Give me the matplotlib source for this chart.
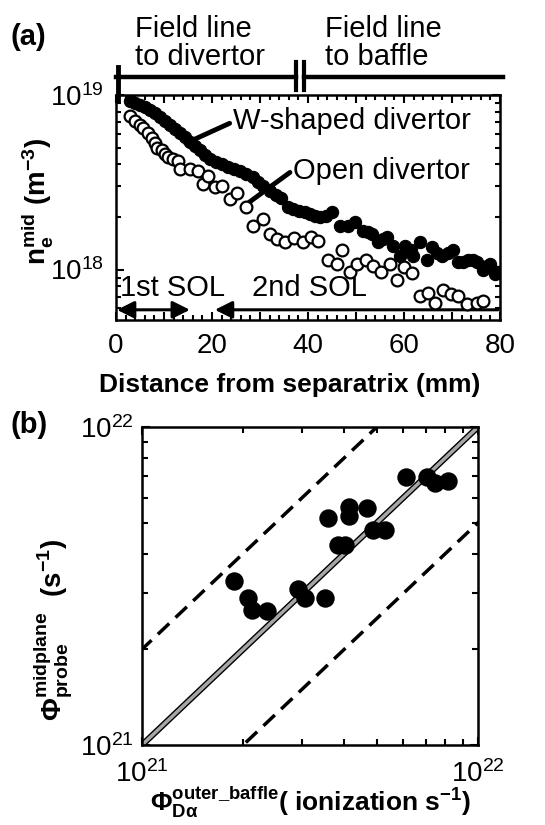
import numpy as np
import matplotlib
matplotlib.use('Agg')
import matplotlib.pyplot as plt
from matplotlib.ticker import MultipleLocator, NullFormatter, FuncFormatter

plt.rcParams['font.family'] = ['Liberation Sans', 'DejaVu Sans']
plt.rcParams['mathtext.fontset'] = 'custom'
plt.rcParams['mathtext.rm'] = 'Liberation Sans'
plt.rcParams['mathtext.bf'] = 'Liberation Sans:bold'
plt.rcParams['mathtext.it'] = 'Liberation Sans:italic'

# (a) midplane density profiles, distance in mm, density in 1e18 m^-3
w_dist = [2.9, 4.0, 5.0, 6.0, 7.1, 8.1, 9.2, 10.2, 11.3, 12.3, 13.3, 14.4, 15.4, 16.5, 17.5,
          18.5, 19.6, 20.8, 22.1, 23.3, 24.6, 25.8, 27.1, 28.5, 29.6, 30.6, 32.1, 33.3, 34.4,
          35.8, 36.9, 38.1, 39.4, 40.4, 41.5, 42.5, 43.75, 45.0, 46.7, 48.3, 49.8, 51.5, 52.5,
          53.3, 54.6, 55.6, 56.5, 57.7, 59.2, 60.2, 61.5, 61.9, 63.3, 64.8, 65.8, 66.9, 67.9,
          69.2, 70.2, 71.25, 72.3, 73.3, 74.4, 75.2, 76.5, 77.3, 77.9, 79.0, 79.6]
w_ne = [9.23, 8.99, 8.75, 8.53, 8.19, 7.87, 7.46, 7.08, 6.71, 6.36, 6.03, 5.72, 5.35, 5.07, 4.81,
        4.56, 4.32, 4.15, 4.04, 3.89, 3.79, 3.68, 3.54, 3.40, 3.18, 3.02, 2.82, 2.68, 2.57,
        2.28, 2.22, 2.16, 2.14, 2.08, 2.02, 2.00, 2.02, 2.14, 1.77, 1.77, 1.87, 1.66, 1.64,
        1.59, 1.43, 1.49, 1.53, 1.36, 1.19, 1.36, 1.30, 1.19, 1.43, 1.14, 1.34, 1.25, 1.19,
        1.24, 1.30, 1.10, 1.11, 1.14, 1.13, 1.11, 1.00, 1.05, 1.07, 0.94, 0.97]

open_dist = [2.9, 4.0, 5.0, 5.6, 6.7, 7.5, 8.1, 8.5, 9.6, 10.2, 10.8, 11.9, 12.9, 13.3, 15.4,
             17.1, 18.1, 19.2, 20.6, 22.1, 23.75, 25.2, 27.1, 28.5, 30.6, 32.1, 33.5, 35.2,
             37.1, 39.0, 40.6, 42.1, 44.2, 46.0, 47.1, 48.75, 50.2, 52.1, 53.5, 55.2, 57.1,
             58.5, 60.0, 61.7, 63.3, 65.0, 66.5, 68.1, 69.8, 71.25, 73.1, 75.2, 76.5]
open_ne = [7.56, 7.08, 6.71, 6.45, 6.03, 5.64, 5.28, 4.94, 4.81, 4.62, 4.44, 4.32, 4.21, 3.79,
           3.79, 3.68, 3.10, 3.45, 2.98, 3.02, 2.54, 2.75, 2.28, 1.77, 1.95, 1.59, 1.49, 1.43,
           1.51, 1.43, 1.53, 1.45, 1.14, 1.08, 1.30, 0.97, 1.07, 1.14, 1.05, 0.97, 1.07,
           0.875, 1.03, 0.96, 0.707, 0.736, 0.644, 0.766, 0.727, 0.707, 0.636, 0.644, 0.662]

# (b) particle flux, 1e21 s^-1
flux_da = [1.88, 2.07, 2.12, 2.35, 2.92, 3.06, 3.50, 3.58, 3.84, 4.02, 4.14, 4.14, 4.66,
           4.88, 5.29, 6.11, 7.04, 7.45, 8.16]
flux_probe = [3.29, 2.89, 2.66, 2.64, 3.10, 2.89, 2.89, 5.16, 4.26, 4.26, 5.62, 5.25, 5.55,
              4.74, 4.74, 6.95, 6.95, 6.65, 6.78]

fig = plt.figure(figsize=(5.45, 8.25), dpi=100)
ax_a = fig.add_axes([116 / 545, 1 - 320 / 825, 384 / 545, 225 / 825])
ax_b = fig.add_axes([142 / 545, 1 - 745 / 825, 336 / 545, 318 / 825])

# ---- panel (a)
ax_a.scatter(w_dist, np.array(w_ne) * 1e18, s=78, c='k', edgecolors='k', linewidths=0.8, zorder=3)
ax_a.scatter(open_dist, np.array(open_ne) * 1e18, s=72, c='white', edgecolors='k', linewidths=1.6, zorder=4)
ax_a.set_yscale('log')
ax_a.set_xlim(0, 80)
ax_a.set_ylim(5.14e17, 1e19)
ax_a.xaxis.set_major_locator(MultipleLocator(10))
ax_a.xaxis.set_minor_locator(MultipleLocator(2))
ax_a.xaxis.set_major_formatter(FuncFormatter(lambda v, p: f'{v:.0f}' if v % 20 == 0 else ''))
ax_a.yaxis.set_minor_formatter(NullFormatter())
ax_a.tick_params(which='both', direction='in', top=True, right=True, labelsize=20, width=1.5)
ax_a.tick_params(which='major', length=6, pad=9)
ax_a.tick_params(which='minor', length=3.5)
for s in ax_a.spines.values():
    s.set_linewidth(1.8)

ax_a.set_xlabel('Distance from separatrix (mm)', fontsize=19, fontweight='bold')
ax_a.xaxis.set_label_coords(0.453, -0.235)
ax_a.set_ylabel(r'$\mathbf{n_e^{mid}}$ $\mathbf{(m^{-3})}$', fontsize=20)
ax_a.yaxis.set_label_coords(-0.159, 0.529)

ax_a.annotate('', xy=(14.0, 5.21e18), xytext=(24.2, 6.99e18),
              arrowprops=dict(arrowstyle='-', lw=3.5, color='k'))
ax_a.text(24.4, 7.07e18, 'W-shaped divertor', fontsize=21, va='center', ha='left')
ax_a.annotate('', xy=(27.3, 2.38e18), xytext=(36.7, 3.68e18),
              arrowprops=dict(arrowstyle='-', lw=3.5, color='k'))
ax_a.text(36.9, 3.68e18, 'Open divertor', fontsize=21, va='center', ha='left')

ax_a.text(0.8, 0.787e18, '1st SOL', fontsize=21, va='center', ha='left')
ax_a.text(28.3, 0.787e18, '2nd SOL', fontsize=21, va='center', ha='left')
ax_a.annotate('', xy=(0.2, 5.88e17), xytext=(15.4, 5.88e17),
              arrowprops=dict(arrowstyle='<|-|>', lw=2.2, color='k', mutation_scale=26,
                              shrinkA=0, shrinkB=0))
ax_a.annotate('', xy=(20.6, 5.88e17), xytext=(79.6, 5.88e17),
              arrowprops=dict(arrowstyle='-|>', lw=2.2, color='k', mutation_scale=26,
                              shrinkA=0, shrinkB=0))

# field line bar above the panel
tr = ax_a.get_xaxis_transform()
ax_a.plot([0, 37.5], [1.08, 1.08], transform=tr, clip_on=False, lw=3.2, color='k')
ax_a.plot([39.2, 80.6], [1.08, 1.08], transform=tr, clip_on=False, lw=3.2, color='k')
ax_a.plot([0.4, 0.4], [0.978, 1.124], transform=tr, clip_on=False, lw=3.5, color='k')
ax_a.plot([37.5, 37.5], [1.022, 1.147], transform=tr, clip_on=False, lw=3, color='k')
ax_a.plot([39.2, 39.2], [1.022, 1.147], transform=tr, clip_on=False, lw=3, color='k')
ax_a.text(4.0, 1.231, 'Field line\nto divertor', transform=tr, fontsize=21, ha='left',
          va='center', linespacing=1.0)
ax_a.text(43.5, 1.231, 'Field line\nto baffle', transform=tr, fontsize=21, ha='left',
          va='center', linespacing=1.0)

# ---- panel (b)
ref = np.array([1e20, 1e23])
ax_b.plot(ref, ref, color='k', lw=4.5, zorder=2)
ax_b.plot(ref, ref, color='0.65', lw=2.5, zorder=2)
ax_b.plot(ref, 2 * ref, color='k', lw=2.5, dashes=(4.5, 2.5), zorder=2)
ax_b.plot(ref, ref / 2, color='k', lw=2.5, dashes=(4.5, 2.5), zorder=2)
ax_b.scatter(np.array(flux_da) * 1e21, np.array(flux_probe) * 1e21, s=150, c='k', zorder=3)
ax_b.set_xscale('log')
ax_b.set_yscale('log')
ax_b.set_xlim(1e21, 1e22)
ax_b.set_ylim(1e21, 1e22)
ax_b.xaxis.set_minor_formatter(NullFormatter())
ax_b.yaxis.set_minor_formatter(NullFormatter())
ax_b.tick_params(which='both', direction='in', top=True, right=True, labelsize=20, width=1.5)
ax_b.tick_params(which='major', length=6, pad=6)
ax_b.tick_params(axis='x', which='major', pad=11)
ax_b.tick_params(which='minor', length=4)
for s in ax_b.spines.values():
    s.set_linewidth(1.8)

ax_b.set_xlabel(r'$\mathbf{\Phi_{D\alpha}^{outer\_baffle}}$( ionization s$^{\mathbf{-1}}$)',
                fontsize=19, fontweight='bold')
ax_b.xaxis.set_label_coords(0.5, -0.125)
ax_b.set_ylabel(r'$\mathbf{\Phi_{probe}^{midplane}}$  $\mathbf{(s^{-1})}$', fontsize=20)
ax_b.yaxis.set_label_coords(-0.199, 0.362)

fig.text(10 / 545, 1 - 37 / 825, '(a)', fontsize=21, fontweight='bold', va='center')
fig.text(10 / 545, 1 - 425 / 825, '(b)', fontsize=21, fontweight='bold', va='center')

fig.savefig('out.png', dpi=100)
